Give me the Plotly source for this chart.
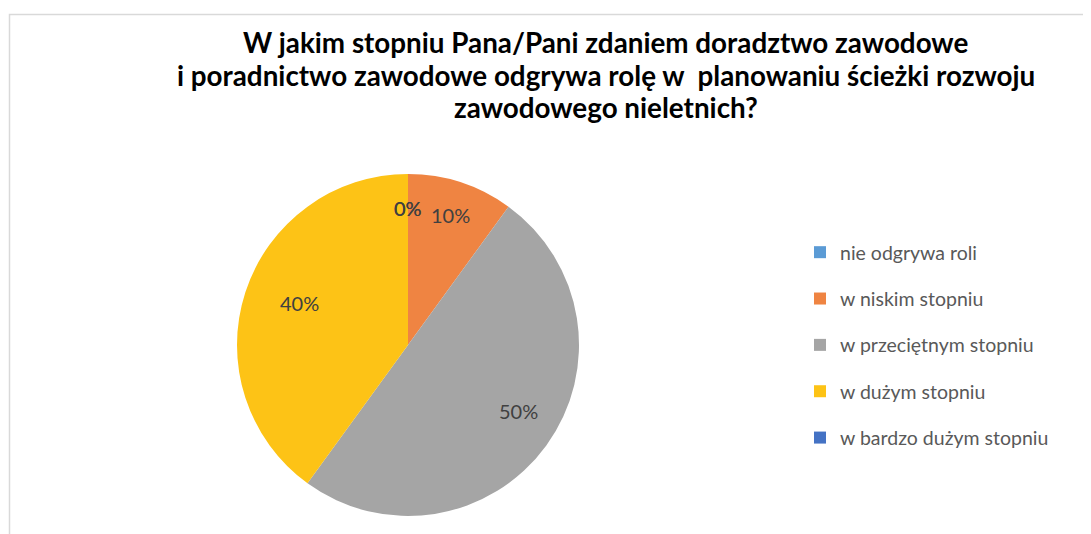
import math
import plotly.graph_objects as go

# page body has an 8px margin, so the figure is drawn 8px in from the corner
OFF = 8
W, H = 1091 - OFF, 534 - OFF

categories = ["nie odgrywa roli", "w niskim stopniu", "w przeciętnym stopniu",
              "w dużym stopniu", "w bardzo dużym stopniu"]
percent = [0, 10, 50, 40, 0]
colors = ["#5B9BD5", "#EF8442", "#A5A5A5", "#FDC316", "#4472C4"]

title_lines = [
    "W jakim stopniu Pana/Pani zdaniem doradztwo zawodowe",
    "i poradnictwo zawodowe odgrywa rolę w  planowaniu ścieżki rozwoju",
    "zawodowego nieletnich?",
]


def px(x):
    return (x - OFF) / W


def py(y):
    return 1 - (y - OFF) / H


cx, cy, r = 408, 345, 171

fig = go.Figure()

fig.add_trace(go.Pie(
    labels=categories,
    values=percent,
    sort=False,
    direction="clockwise",
    rotation=0,
    marker=dict(colors=colors),
    textinfo="none",
    domain=dict(x=[px(cx - r), px(cx + r)], y=[py(cy + r), py(cy - r)]),
    showlegend=False,
    hoverinfo="label+percent",
))

# data labels, Excel-style, placed along each slice's mid angle
total = sum(percent)
cum = 0
for v in percent:
    ang = math.radians((cum + v / 2) / total * 360)
    cum += v
    fig.add_annotation(
        text=f"{v}%", x=px(cx + 0.8 * r * math.sin(ang)), y=py(cy - 0.8 * r * math.cos(ang)),
        xref="paper", yref="paper", showarrow=False,
        font=dict(family="Lato", size=20, color="#404040"),
    )

# legend entries, one per category
for name, c in zip(categories, colors):
    fig.add_trace(go.Scatter(
        x=[None], y=[None], mode="markers", name=name, legendgroup=name,
        marker=dict(symbol="square", size=15, color=c),
    ))

for i, line in enumerate(title_lines):
    fig.add_annotation(
        text="<b>" + line + "</b>", x=px(606), y=py(42 + 33 * i),
        xref="paper", yref="paper", showarrow=False,
        xanchor="center", yanchor="middle",
        font=dict(family="Lato", size=27.8, color="#000000"),
    )

# chart frame
fig.add_shape(type="rect", xref="paper", yref="paper",
              x0=px(9.5), x1=1.05, y0=-0.05, y1=py(14.5),
              line=dict(color="#D9D9D9", width=1.5), fillcolor="rgba(0,0,0,0)")

fig.update_layout(
    width=W, height=H,
    margin=dict(l=0, r=0, t=0, b=0),
    paper_bgcolor="white", plot_bgcolor="white",
    xaxis=dict(visible=False), yaxis=dict(visible=False),
    legend=dict(
        x=px(800), y=py(233), xanchor="left", yanchor="top",
        font=dict(family="Lato", size=19.5, color="#595959"),
        tracegroupgap=18, itemsizing="constant",
    ),
)

fig.write_html("out.html")
